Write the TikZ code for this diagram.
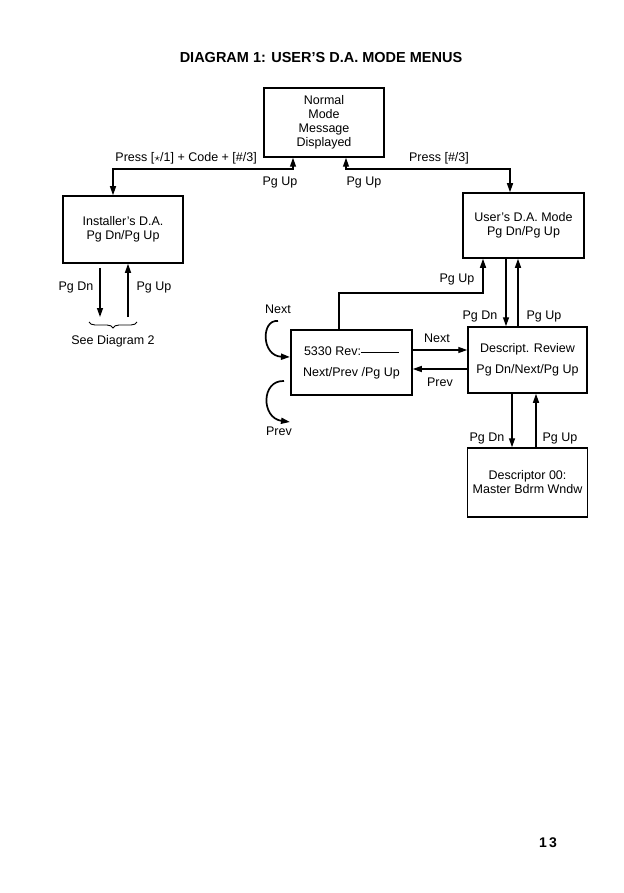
\documentclass[tikz,border=0pt]{standalone}
\usepackage{fontspec}
\setmainfont{Liberation Sans}
\usetikzlibrary{arrows.meta,positioning,decorations.pathreplacing}

\begin{document}
\begin{tikzpicture}[x=1pt, y=-1pt,
  menu/.style={draw, rectangle, line width=1.5pt, inner sep=2pt, align=center, font=\fontsize{12.5}{14}\selectfont},
  label/.style={font=\fontsize{12.5}{14}\selectfont, inner sep=1pt, text=black},
  flow/.style={-{Triangle[length=9pt,width=6pt]}, line width=1.3pt, draw=black},
  twoway/.style={{Triangle[length=9pt,width=6pt]}-{Triangle[length=9pt,width=6pt]}, line width=1.3pt, draw=black},
]
\useasboundingbox (0,0) rectangle (623,893);

% Title and page number
\node[font=\fontsize{14.5}{16}\selectfont\bfseries] (title) at (321,58) {DIAGRAM 1: USER'S D.A. MODE MENUS};
\node[font=\fontsize{14}{16}\selectfont\bfseries] (page) at (548,843) {1\,3};

% Menu boxes
\node[menu, minimum width=120pt, minimum height=69pt] (normal) at (324,122.5) {Normal\\Mode\\Message\\Displayed};
\node[menu, minimum width=120pt, minimum height=67pt] (inst) at (123,229.5) {Installer's D.A.\\Pg Dn/Pg Up};
\node[menu, minimum width=121pt, minimum height=65pt] (user) at (523.5,225.5) {User's D.A. Mode\\Pg Dn/Pg Up};
\node[menu, minimum width=121pt, minimum height=65pt] (rev) at (351.5,362.5) {5330 Rev:\rule[2pt]{38pt}{0.9pt}\\[7pt]Next/Prev /Pg Up};
\node[menu, minimum width=119pt, minimum height=66pt] (descr) at (527.5,360) {Descript. Review\\[7pt]Pg Dn/Next/Pg Up};
\node[menu, minimum width=120pt, minimum height=69pt] (dsc00) at (527.5,482.5) {Descriptor 00:\\Master Bdrm Wndw};

% Normal mode <-> installer / user
\coordinate (tl) at (293,169);
\coordinate (tr) at (346,169);
\draw[twoway] (normal.south -| tl) -- (tl) -| ([xshift=-10pt]inst.north);
\draw[twoway] (normal.south -| tr) -- (tr) -| ([xshift=-13.5pt]user.north);
\node[label, anchor=east] (lpress) at (258,158) {Press [$\star$/1] + Code + [\#/3]};
\node[label] (rpress) at (439,158) {Press [\#/3]};
\node[label] (lpgup) at (280,182) {Pg Up};
\node[label] (rpgup) at (364,182) {Pg Up};

% Installer's D.A. to diagram 2
\coordinate (idn) at (100,317);
\coordinate (iup) at (128,317);
\draw[flow] ([xshift=-23pt,yshift=-4pt]inst.south) -- (idn);
\draw[flow] (iup) -- (inst.south -| iup);
\node[label] (idnlbl) at (76,287) {Pg Dn};
\node[label] (iuplbl) at (154,287) {Pg Up};
\coordinate (brl) at (89,322);
\coordinate (brr) at (137,322);
\draw[line width=0.9pt, decorate, decoration={brace, mirror, amplitude=6pt}] (brl) -- (brr);
\node[label] (see2) at (113,341) {See Diagram 2};

% User's D.A. <-> descript. review
\draw[flow] ([xshift=-17.5pt]user.south) -- ([xshift=-21.5pt]descr.north);
\draw[flow] ([xshift=-9.5pt]descr.north) -- ([xshift=-5.5pt]user.south);
\node[label] (udnlbl) at (480,316) {Pg Dn};
\node[label] (uuplbl) at (544,316) {Pg Up};

% 5330 rev back to user's D.A.
\coordinate (revup) at (339,293);
\draw[flow] ([xshift=-12.5pt]rev.north) -- (revup) -| ([xshift=-40.5pt]user.south);
\node[label] (ruplbl) at (457,279) {Pg Up};

% Next / Prev between 5330 rev and descript. review
\coordinate (nx) at ([yshift=12.5pt]rev.east);
\coordinate (pv) at ([yshift=-9pt]descr.west);
\draw[flow] (nx) -- (nx -| descr.west);
\draw[flow] (pv) -- (pv -| rev.east);
\node[label] (nxlbl) at (437,338) {Next};
\node[label] (pvlbl) at (440,382) {Prev};

% Descript. review <-> descriptor 00
\draw[flow] ([xshift=-15.5pt]descr.south) -- ([xshift=-15.5pt]dsc00.north);
\draw[flow] ([xshift=8.5pt]dsc00.north) -- ([xshift=8.5pt]descr.south);
\node[label] (ddnlbl) at (487,438) {Pg Dn};
\node[label] (duplbl) at (560,438) {Pg Up};

% Next / Prev loops on 5330 rev
\coordinate (nxa) at (278,321);
\coordinate (nxb) at (290,357);
\coordinate (pva) at (284,381);
\coordinate (pvb) at (290,422);
\draw[flow, line width=1.7pt] (nxa) .. controls (261,319) and (261,356) .. (nxb);
\draw[flow, line width=1.7pt] (pva) .. controls (261,380) and (261,418) .. (pvb);
\node[label] (lpnx) at (278,309) {Next};
\node[label] (lppv) at (279,431) {Prev};

\end{tikzpicture}
\end{document}
